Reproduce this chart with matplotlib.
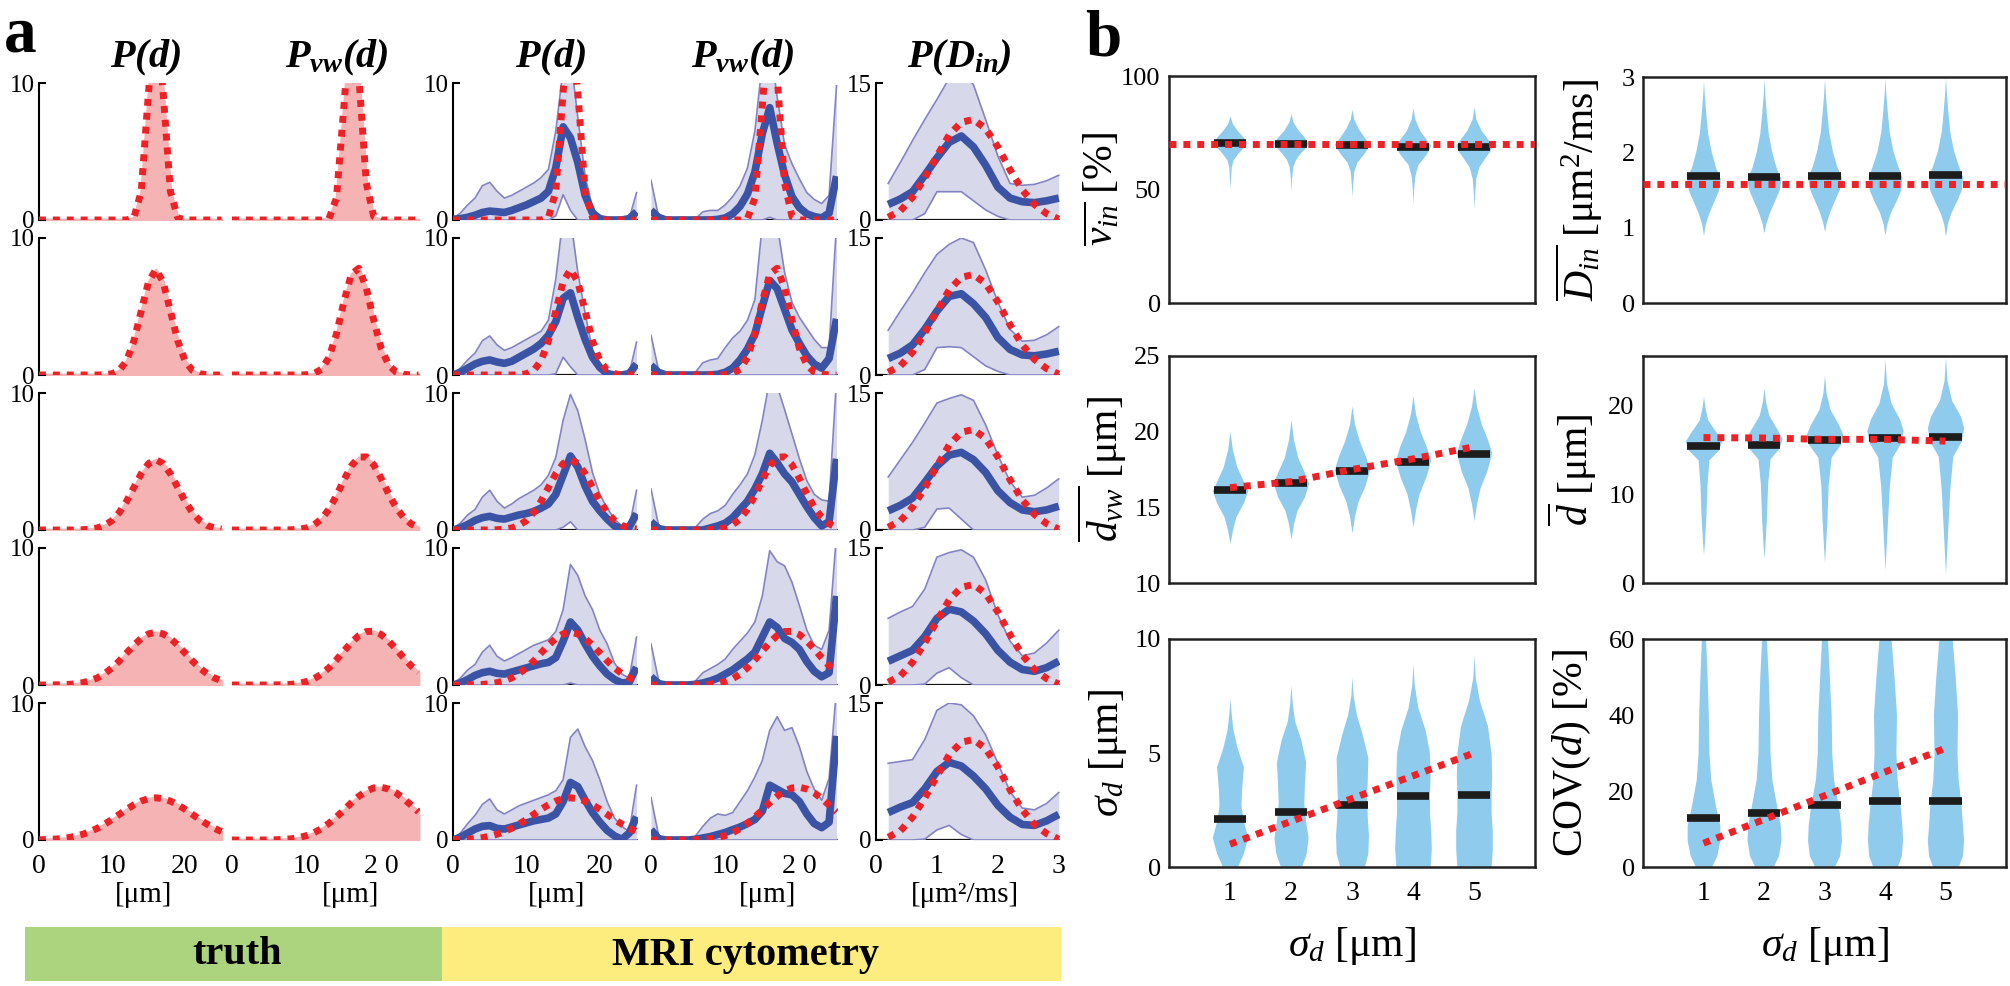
import matplotlib.pyplot as plt
from matplotlib.patches import Rectangle

plt.rcParams['font.family'] = 'serif'
plt.rcParams['font.serif'] = ['Liberation Serif', 'DejaVu Serif']
plt.rcParams['mathtext.fontset'] = 'custom'
plt.rcParams['mathtext.rm'] = 'Liberation Serif'
plt.rcParams['mathtext.it'] = 'Liberation Serif:italic'
plt.rcParams['mathtext.bf'] = 'Liberation Serif:italic:bold'

RED = '#ee2226'
PINK = '#f5b3b3'
BLUE = '#3a53a4'
BAND = '#d8d8eb'
BAND_EDGE = '#8383c2'
VIOLIN = '#8fcbec'

# ---------------- panel a data ----------------
d_um = list(range(26))                       # diameter grid [um]
din_grid = [0.2, 0.4, 0.6, 0.8, 1.0, 1.2, 1.4, 1.6, 1.8, 2.0, 2.2, 2.4, 2.6, 2.8, 3.0]

truth_pd = [
    [0, 0, 0, 0, 0, 0, 0, 0, 0, 0, 0, 0, 0, 0.17, 2.08, 9.34, 15.4, 9.34, 2.08, 0.17, 0, 0, 0, 0, 0, 0],
    [0, 0, 0, 0, 0, 0, 0, 0, 0, 0.02, 0.09, 0.34, 1.04, 2.5, 4.67, 6.8, 7.7, 6.8, 4.67, 2.5, 1.04, 0.34, 0.09, 0.02, 0, 0],
    [0, 0, 0, 0, 0, 0, 0.02, 0.06, 0.15, 0.34, 0.69, 1.28, 2.11, 3.11, 4.11, 4.85, 5.13, 4.85, 4.11, 3.11, 2.11, 1.28, 0.69, 0.34, 0.15, 0.06],
    [0, 0, 0.01, 0.02, 0.04, 0.09, 0.17, 0.31, 0.52, 0.83, 1.25, 1.76, 2.34, 2.91, 3.4, 3.73, 3.85, 3.73, 3.4, 2.91, 2.34, 1.76, 1.25, 0.83, 0.52, 0.31],
    [0.02, 0.03, 0.06, 0.1, 0.17, 0.27, 0.42, 0.61, 0.86, 1.16, 1.5, 1.87, 2.24, 2.57, 2.84, 3.02, 3.08, 3.02, 2.84, 2.57, 2.24, 1.87, 1.5, 1.16, 0.86, 0.61],
]
truth_pvw = [
    [0, 0, 0, 0, 0, 0, 0, 0, 0, 0, 0, 0, 0, 0.1, 1.6, 8.3, 15.5, 10.5, 2.7, 0.25, 0, 0, 0, 0, 0, 0],
    [0, 0, 0, 0, 0, 0, 0, 0, 0, 0, 0.02, 0.11, 0.42, 1.28, 2.99, 5.35, 7.36, 7.79, 6.36, 4.0, 1.94, 0.73, 0.21, 0.05, 0.01, 0],
    [0, 0, 0, 0, 0, 0, 0, 0, 0.02, 0.05, 0.15, 0.38, 0.81, 1.52, 2.51, 3.65, 4.68, 5.31, 5.34, 4.76, 3.76, 2.64, 1.64, 0.92, 0.45, 0.2],
    [0, 0, 0, 0, 0, 0, 0.01, 0.02, 0.05, 0.12, 0.25, 0.46, 0.79, 1.26, 1.84, 2.48, 3.11, 3.61, 3.9, 3.92, 3.68, 3.21, 2.63, 1.99, 1.41, 0.94],
    [0, 0, 0, 0, 0, 0.01, 0.02, 0.05, 0.09, 0.18, 0.32, 0.53, 0.83, 1.22, 1.68, 2.19, 2.72, 3.19, 3.57, 3.8, 3.85, 3.72, 3.44, 3.02, 2.55, 2.05],
]

pd_mean = [
    [0.05, 0.1, 0.2, 0.35, 0.55, 0.65, 0.6, 0.55, 0.7, 0.9, 1.1, 1.35, 1.6, 2.1, 3.8, 6.8, 6.0, 4.2, 1.8, 0.5, 0.1, 0, 0, 0, 0.1, 0.6],
    [0, 0.2, 0.5, 0.8, 1.0, 1.1, 0.95, 0.85, 1.0, 1.3, 1.6, 1.9, 2.3, 2.9, 3.9, 5.6, 6.0, 4.2, 2.6, 1.3, 0.55, 0.1, 0, 0, 0.1, 0.8],
    [0, 0.15, 0.4, 0.7, 0.9, 1.0, 0.85, 0.8, 0.95, 1.1, 1.2, 1.35, 1.6, 1.9, 2.6, 4.0, 5.4, 4.6, 3.2, 2.1, 1.4, 0.8, 0.3, 0.1, 0.2, 1.2],
    [0, 0.15, 0.4, 0.7, 0.9, 1.0, 0.85, 0.8, 0.95, 1.1, 1.25, 1.4, 1.55, 1.65, 2.0, 3.2, 4.6, 4.0, 3.0, 2.1, 1.4, 0.8, 0.4, 0.15, 0.2, 1.3],
    [0, 0.2, 0.5, 0.8, 1.0, 1.05, 0.85, 0.8, 0.95, 1.1, 1.25, 1.4, 1.5, 1.6, 1.9, 2.8, 4.2, 3.9, 2.9, 2.0, 1.3, 0.7, 0.3, 0.05, 0.5, 1.7],
]
pd_hi = [
    [0.1, 0.5, 1.1, 1.6, 2.5, 2.75, 2.1, 1.6, 1.8, 2.1, 2.4, 2.7, 3.1, 3.7, 6.5, 11, 12, 7.5, 3.2, 0.9, 0.2, 0.05, 0.02, 0.02, 0.1, 2.0],
    [0.1, 0.5, 1.1, 1.6, 2.5, 2.85, 2.2, 1.8, 2.0, 2.3, 2.6, 2.9, 3.2, 4.0, 7.0, 11.5, 11.5, 7.5, 4.5, 1.8, 0.8, 0.35, 0.1, 0.05, 0.1, 2.4],
    [0.1, 0.5, 1.1, 1.5, 2.4, 2.9, 2.1, 1.6, 1.9, 2.3, 2.6, 2.9, 3.3, 4.0, 5.3, 8.0, 9.9, 8.7, 6.6, 4.2, 2.6, 1.6, 0.8, 0.3, 0.2, 2.9],
    [0.1, 0.5, 1.1, 1.5, 2.4, 2.9, 2.1, 1.75, 2.0, 2.3, 2.6, 2.9, 3.1, 3.3, 3.9, 5.5, 8.8, 8.0, 6.5, 5.5, 4.0, 3.0, 1.6, 0.8, 0.5, 3.5],
    [0.1, 0.5, 1.2, 1.8, 2.6, 3.0, 2.2, 1.9, 2.2, 2.5, 2.7, 2.9, 3.1, 3.3, 3.6, 4.4, 7.5, 8.1, 6.8, 5.8, 4.4, 2.8, 1.6, 1.0, 0.6, 4.0],
]
pd_lo = [
    [0, 0, 0, 0, 0, 0, 0, 0, 0, 0, 0, 0, 0, 0, 0.3, 1.85, 0.7, 0, 0, 0, 0, 0, 0, 0, 0, 0],
    [0, 0, 0, 0, 0, 0, 0, 0, 0, 0, 0, 0, 0, 0, 0.1, 1.3, 0.6, 0, 0, 0, 0, 0, 0, 0, 0, 0],
    [0, 0, 0, 0, 0, 0, 0, 0, 0, 0, 0, 0, 0, 0, 0, 0.2, 0.6, 0, 0, 0, 0, 0, 0, 0, 0, 0],
    [0, 0, 0, 0, 0, 0, 0, 0, 0, 0, 0, 0, 0, 0, 0, 0, 0.15, 0, 0, 0, 0, 0, 0, 0, 0, 0],
    [0, 0, 0, 0, 0, 0, 0, 0, 0, 0, 0, 0, 0, 0, 0, 0, 0, 0, 0, 0, 0, 0, 0, 0, 0, 0],
]

pvw_mean = [
    [0.7, 0.2, 0, 0, 0, 0, 0, 0, 0, 0.05, 0.15, 0.45, 1.0, 1.9, 3.5, 6.3, 8.2, 5.6, 3.3, 1.7, 0.9, 0.45, 0.25, 0.15, 0.5, 3.2],
    [0.7, 0.2, 0, 0, 0, 0, 0, 0, 0, 0.05, 0.2, 0.5, 1.1, 1.9, 3.0, 5.0, 6.9, 6.3, 4.8, 3.3, 2.3, 1.4, 0.8, 0.5, 1.2, 4.1],
    [0.6, 0.1, 0, 0, 0, 0, 0, 0, 0.15, 0.3, 0.5, 0.9, 1.5, 2.1, 3.0, 4.1, 5.6, 4.9, 4.1, 3.5, 2.6, 1.7, 0.9, 0.3, 0.6, 5.2],
    [0.6, 0.1, 0, 0, 0, 0, 0.05, 0.15, 0.3, 0.5, 0.8, 1.1, 1.5, 1.9, 2.4, 3.5, 4.6, 4.2, 3.4, 3.1, 2.6, 1.7, 1.0, 0.6, 0.9, 6.5],
    [0.75, 0.1, 0, 0, 0, 0, 0.05, 0.15, 0.25, 0.4, 0.55, 0.75, 0.95, 1.2, 1.5, 2.1, 4.0, 3.7, 3.4, 3.3, 2.8, 1.9, 1.2, 0.9, 1.3, 7.6],
]
pvw_hi = [
    [2.9, 0.3, 0, 0, 0, 0, 0.1, 0.6, 0.7, 0.7, 1.1, 1.7, 2.5, 3.8, 6.5, 11.5, 13, 9.0, 5.5, 4.1, 3.0, 2.0, 1.5, 1.2, 1.8, 9.8],
    [2.9, 0.4, 0, 0, 0, 0, 0.2, 0.9, 1.1, 1.2, 2.0, 2.7, 3.2, 4.0, 5.5, 11, 14, 11, 7.5, 5.3, 4.2, 3.4, 2.6, 2.0, 2.0, 11],
    [3.0, 0.4, 0, 0, 0, 0, 0.2, 0.8, 1.2, 1.4, 1.8, 2.6, 3.3, 4.1, 5.5, 8.0, 11, 10.5, 8.8, 7.0, 5.2, 3.6, 2.6, 2.2, 2.1, 11],
    [3.0, 0.4, 0, 0, 0, 0, 0.3, 0.9, 1.2, 1.5, 1.9, 2.6, 3.2, 3.8, 4.6, 6.5, 9.8, 9.0, 8.7, 7.5, 5.8, 4.0, 2.9, 2.6, 4.0, 11],
    [3.1, 0.4, 0, 0, 0, 0, 0.3, 1.0, 1.6, 1.9, 1.8, 2.0, 2.8, 3.6, 4.6, 5.8, 8.0, 9.0, 8.0, 8.2, 6.8, 5.0, 3.7, 2.9, 4.5, 11],
]
pvw_lo = [
    [0, 0, 0, 0, 0, 0, 0, 0, 0, 0, 0, 0, 0, 0, 0, 0, 0.2, 0, 0, 0, 0, 0, 0, 0, 0, 0],
    [0] * 26,
    [0] * 26,
    [0] * 26,
    [0] * 26,
]

din_truth = [0.3, 1.0, 2.5, 4.6, 7.0, 9.3, 10.7, 11.0, 10.0, 8.0, 5.5, 3.3, 1.7, 0.7, 0.1]
din_mean = [
    [1.7, 2.3, 3.1, 4.9, 6.8, 8.5, 9.2, 8.0, 6.0, 3.6, 2.4, 2.0, 1.9, 2.1, 2.4],
    [1.8, 2.4, 3.3, 5.0, 7.0, 8.6, 8.9, 7.8, 6.3, 4.1, 2.8, 2.2, 2.1, 2.3, 2.6],
    [2.1, 2.7, 3.5, 5.2, 7.0, 8.2, 8.5, 7.7, 6.3, 4.3, 3.0, 2.2, 2.0, 2.2, 2.6],
    [2.6, 3.2, 3.8, 5.3, 7.3, 8.3, 8.0, 7.0, 5.6, 3.8, 2.5, 1.7, 1.5, 1.9, 2.6],
    [3.0, 3.6, 4.1, 5.6, 7.5, 8.5, 8.1, 7.0, 5.6, 3.8, 2.5, 1.7, 1.6, 2.1, 2.8],
]
din_hi = [
    [4.0, 6.3, 8.7, 11.0, 13.2, 15.5, 16.5, 14.8, 11.0, 7.0, 4.0, 3.8, 3.9, 4.3, 4.9],
    [4.9, 7.0, 9.0, 11.2, 13.2, 14.3, 15.0, 14.5, 11.5, 8.0, 5.0, 3.7, 3.8, 4.4, 5.3],
    [5.8, 7.7, 9.6, 11.7, 13.9, 14.4, 14.8, 14.2, 11.5, 8.2, 5.3, 3.6, 3.8, 4.6, 5.6],
    [7.3, 8.0, 8.6, 10.5, 14.0, 14.5, 14.8, 14.0, 11.5, 7.7, 4.8, 3.2, 3.5, 4.6, 6.0],
    [8.4, 8.6, 8.8, 11.0, 14.2, 15.0, 14.8, 13.6, 11.5, 8.4, 5.3, 3.5, 3.3, 4.0, 5.2],
]
din_lo = [
    [0, 0, 0, 0.7, 3.1, 3.1, 3.1, 2.1, 1.1, 0.4, 0, 0, 0, 0, 0],
    [0, 0, 0, 0.6, 3.0, 3.1, 3.0, 2.0, 1.0, 0.4, 0, 0, 0, 0, 0],
    [0, 0, 0, 0.3, 2.3, 2.4, 1.2, 0, 0, 0, 0, 0, 0, 0, 0],
    [0, 0, 0, 0.1, 1.3, 1.9, 0.8, 0, 0, 0, 0, 0, 0, 0, 0],
    [0, 0, 0, 0.1, 1.1, 1.6, 0.6, 0, 0, 0, 0, 0, 0, 0, 0],
]

col_titles = [r'$\mathbf{P(d)}$', r'$\mathbf{P_{vw}(d)}$', r'$\mathbf{P(d)}$',
              r'$\mathbf{P_{vw}(d)}$', r'$\mathbf{P(D_{in})}$']
um_ticks = ['0', '10', '20']
um_ticks_vw = ['0', '10', '2 0']
din_ticks = ['0', '1', '2', '3']

# ---------------- panel b data ----------------
sigma_d = [1, 2, 3, 4, 5]

vin_median = [70.3, 70.1, 69.6, 68.9, 68.8]
vin_true = 70
vin_vy = [[50.4, 55, 60, 63, 66, 68, 70.5, 73, 76, 79, 82.4],
          [49.4, 55, 60, 63, 66, 68, 70.3, 73, 76, 80, 83.5],
          [46.8, 52, 58, 62, 65, 68, 70, 73, 77, 81, 85.3],
          [43.5, 50, 56, 61, 65, 68, 69.5, 72, 76, 81, 86.2],
          [41.2, 48, 55, 60, 64, 67, 69.5, 72, 76, 81, 86.5]]
vin_vw = [[0, 0.01, 0.02, 0.05, 0.13, 0.2, 0.28, 0.22, 0.12, 0.04, 0],
          [0, 0.01, 0.03, 0.07, 0.15, 0.22, 0.29, 0.22, 0.12, 0.03, 0],
          [0, 0.01, 0.03, 0.08, 0.17, 0.25, 0.29, 0.2, 0.1, 0.03, 0],
          [0, 0.01, 0.03, 0.08, 0.2, 0.27, 0.29, 0.22, 0.11, 0.03, 0],
          [0, 0.01, 0.03, 0.08, 0.18, 0.26, 0.3, 0.23, 0.12, 0.03, 0]]

din_median = [1.68, 1.67, 1.68, 1.69, 1.70]
din_true = 1.58
din_vy = [[0.9, 1.05, 1.2, 1.35, 1.5, 1.65, 1.8, 2.0, 2.25, 2.5, 2.75, 2.95],
          [0.93, 1.05, 1.2, 1.35, 1.5, 1.65, 1.8, 2.0, 2.25, 2.5, 2.75, 2.97],
          [0.95, 1.07, 1.22, 1.37, 1.52, 1.67, 1.82, 2.02, 2.27, 2.52, 2.77, 2.97],
          [0.9, 1.05, 1.2, 1.35, 1.5, 1.67, 1.82, 2.02, 2.27, 2.52, 2.77, 2.98],
          [0.88, 1.05, 1.2, 1.35, 1.5, 1.68, 1.83, 2.03, 2.28, 2.53, 2.78, 2.99]]
din_vw = [[0, 0.03, 0.09, 0.17, 0.25, 0.28, 0.2, 0.13, 0.07, 0.04, 0.015, 0],
          [0, 0.03, 0.09, 0.17, 0.25, 0.28, 0.2, 0.13, 0.07, 0.04, 0.015, 0],
          [0, 0.03, 0.09, 0.17, 0.25, 0.28, 0.2, 0.13, 0.07, 0.04, 0.015, 0],
          [0, 0.03, 0.09, 0.18, 0.26, 0.28, 0.21, 0.13, 0.07, 0.04, 0.015, 0],
          [0, 0.03, 0.09, 0.18, 0.26, 0.28, 0.21, 0.13, 0.07, 0.04, 0.015, 0]]

dvw_median = [16.15, 16.6, 17.4, 18.0, 18.5]
dvw_true = [16.3, 16.7, 17.5, 18.2, 19.0]
dvw_vy = [[12.6, 13.5, 14.4, 15.3, 16.1, 16.8, 17.7, 18.8, 20.0],
          [12.9, 13.9, 14.8, 15.7, 16.6, 17.4, 18.3, 19.5, 20.8],
          [13.3, 14.4, 15.4, 16.4, 17.5, 18.4, 19.4, 20.5, 21.7],
          [13.7, 14.8, 15.9, 17.0, 18.1, 19.0, 20.0, 21.2, 22.4],
          [14.1, 15.2, 16.3, 17.4, 18.6, 19.5, 20.5, 21.7, 22.9]]
dvw_vw = [[0, 0.04, 0.1, 0.22, 0.29, 0.21, 0.11, 0.04, 0],
          [0, 0.04, 0.1, 0.22, 0.29, 0.21, 0.11, 0.04, 0],
          [0, 0.04, 0.1, 0.21, 0.29, 0.22, 0.12, 0.04, 0],
          [0, 0.04, 0.1, 0.21, 0.29, 0.22, 0.12, 0.04, 0],
          [0, 0.04, 0.1, 0.21, 0.29, 0.22, 0.12, 0.04, 0]]

dmean_median = [15.4, 15.6, 16.1, 16.35, 16.5]
dmean_true = [16.4, 16.35, 16.2, 16.2, 16.0]
dmean_vy = [[3.2, 4.5, 7.5, 11.3, 13.9, 15.0, 16.0, 16.9, 18.4, 19.8, 21.05],
            [2.8, 4.2, 7.3, 11.2, 14.0, 15.2, 16.3, 17.3, 18.9, 20.5, 22.0],
            [2.3, 4.0, 7.0, 11.0, 14.2, 15.6, 16.8, 17.9, 19.6, 21.5, 23.5],
            [1.5, 3.5, 6.8, 10.8, 14.2, 15.8, 17.2, 18.5, 20.3, 22.5, 25.2],
            [1.1, 3.0, 6.5, 10.5, 14.3, 16.0, 17.5, 18.8, 20.6, 22.8, 25.4]]
dmean_vw = [[0, 0.015, 0.04, 0.06, 0.09, 0.25, 0.3, 0.22, 0.07, 0.025, 0],
            [0, 0.015, 0.04, 0.06, 0.1, 0.25, 0.3, 0.22, 0.08, 0.025, 0],
            [0, 0.015, 0.04, 0.06, 0.11, 0.26, 0.3, 0.23, 0.09, 0.025, 0],
            [0, 0.015, 0.04, 0.07, 0.12, 0.26, 0.3, 0.24, 0.1, 0.025, 0],
            [0, 0.015, 0.04, 0.07, 0.12, 0.26, 0.3, 0.25, 0.1, 0.025, 0]]

sd_median = [2.12, 2.42, 2.7, 3.1, 3.15]
sd_true = [1, 2, 3, 4, 5]
sd_vy = [[0, 0.6, 1.3, 2.0, 2.7, 3.4, 4.4, 5.2, 6.0, 6.7, 7.4],
         [0, 0.6, 1.3, 2.0, 2.8, 3.6, 4.6, 5.6, 6.4, 7.2, 8.0],
         [0, 0.6, 1.4, 2.2, 3.0, 3.8, 4.8, 5.8, 6.7, 7.5, 8.35],
         [0, 0.8, 1.6, 2.4, 3.2, 4.0, 5.0, 6.0, 7.0, 8.0, 8.9],
         [0, 0.8, 1.6, 2.4, 3.2, 4.0, 5.0, 6.2, 7.3, 8.3, 9.3]]
sd_vw = [[0.12, 0.22, 0.29, 0.22, 0.18, 0.19, 0.22, 0.12, 0.05, 0.02, 0],
         [0.17, 0.25, 0.28, 0.24, 0.21, 0.22, 0.24, 0.16, 0.06, 0.02, 0],
         [0.2, 0.26, 0.27, 0.25, 0.24, 0.25, 0.26, 0.17, 0.07, 0.02, 0],
         [0.28, 0.3, 0.29, 0.27, 0.27, 0.28, 0.27, 0.2, 0.08, 0.02, 0],
         [0.28, 0.3, 0.3, 0.28, 0.28, 0.29, 0.28, 0.22, 0.09, 0.02, 0]]

cov_median = [12.8, 14.3, 16.3, 17.4, 17.4]
cov_true = [6.25, 12.5, 18.75, 25, 31.25]
cov_levels = [0, 3, 7, 11, 16, 23, 30, 40, 50, 60]
cov_vy = [cov_levels] * 5
cov_vw = [[0.13, 0.22, 0.27, 0.27, 0.2, 0.12, 0.09, 0.08, 0.06, 0.035],
          [0.15, 0.24, 0.28, 0.27, 0.21, 0.13, 0.1, 0.09, 0.07, 0.04],
          [0.16, 0.25, 0.28, 0.27, 0.23, 0.15, 0.12, 0.11, 0.08, 0.05],
          [0.2, 0.27, 0.29, 0.28, 0.25, 0.2, 0.18, 0.19, 0.15, 0.1],
          [0.21, 0.28, 0.3, 0.28, 0.26, 0.21, 0.19, 0.2, 0.16, 0.11]]

# ---------------- figure ----------------
W, H = 2010, 986
fig = plt.figure(figsize=(W / 100, H / 100), dpi=100)


def add_ax(l, t, r, b):
    return fig.add_axes([l / W, 1 - b / H, (r - l) / W, (b - t) / H])


def red_dots(ax, x, y):
    ax.plot(x, y, color=RED, lw=5, linestyle=(0, (1, 1)), dash_capstyle='butt', zorder=5)


cols = [(39, 223), (232, 420), (453, 638), (651, 838), (876, 1060)]
row_tops = [83, 238, 393, 548, 703]
row_h = 137

for r in range(5):
    for c in range(5):
        l, rr = cols[c]
        ax = add_ax(l, row_tops[r], rr, row_tops[r] + row_h)
        for s in ax.spines.values():
            s.set_visible(False)
        ymax = 15 if c == 4 else 10
        ax.set_ylim(0, ymax)
        if c == 4:
            ax.set_xlim(0, 3.02)
        else:
            ax.set_xlim(0, 25.2)
        ax.axhline(0, color='#111111', lw=1.6, zorder=0.5)

        if c == 0 or c == 1:
            tru = truth_pd[r] if c == 0 else truth_pvw[r]
            ax.fill_between(d_um, 0, tru, color=PINK, lw=2, edgecolor=PINK, zorder=1)
            red_dots(ax, d_um, tru)
        elif c == 2 or c == 3:
            lo = pd_lo[r] if c == 2 else pvw_lo[r]
            hi = pd_hi[r] if c == 2 else pvw_hi[r]
            mn = pd_mean[r] if c == 2 else pvw_mean[r]
            tru = truth_pd[r] if c == 2 else truth_pvw[r]
            ax.fill_between(d_um, lo, hi, color=BAND, lw=0, zorder=1)
            ax.plot(d_um, hi, color=BAND_EDGE, lw=1.2, zorder=2)
            ax.plot(d_um, lo, color=BAND_EDGE, lw=1.2, zorder=2)
            ax.plot(d_um, mn, color=BLUE, lw=5.5, zorder=4, solid_capstyle='butt')
            red_dots(ax, d_um, tru)
        else:
            ax.fill_between(din_grid, din_lo[r], din_hi[r], color=BAND, lw=0, zorder=1)
            ax.plot(din_grid, din_hi[r], color=BAND_EDGE, lw=1.2, zorder=2)
            ax.plot(din_grid, din_lo[r], color=BAND_EDGE, lw=1.2, zorder=2)
            ax.plot(din_grid, din_mean[r], color=BLUE, lw=5.5, zorder=4, solid_capstyle='butt')
            red_dots(ax, din_grid, din_truth)

        if c in (0, 2, 4):
            ax.spines['left'].set_visible(True)
            ax.spines['left'].set_linewidth(1.5)
            ax.set_yticks([0, ymax])
            ax.set_yticklabels(['0', str(ymax)])
            ax.tick_params(axis='y', direction='in', length=5, width=1.5,
                           labelsize=18, pad=3)
        else:
            ax.set_yticks([])

        if r == 4:
            if c == 4:
                ax.set_xticks([0, 1, 2, 3])
                ax.set_xticklabels(din_ticks)
            else:
                ax.set_xticks([0, 10, 20])
                ax.set_xticklabels(um_ticks if c in (0, 2) else um_ticks_vw)
            ax.tick_params(axis='x', length=0, labelsize=20, pad=10)
        else:
            ax.set_xticks([])

# column titles and unit labels
title_x = [145, 337, 550, 743, 959]
for c in range(5):
    fig.text(title_x[c] / W, 1 - 58 / H, col_titles[c], ha='center', va='center', fontsize=29)
unit_x = [144, 351, 557, 768, 965]
unit_txt = ['[μm]', '[μm]', '[μm]', '[μm]', '[μm²/ms]']
for c in range(5):
    fig.text(unit_x[c] / W, 1 - 895 / H, unit_txt[c], ha='center', va='center', fontsize=21)

fig.text(4 / W, 1 - 52 / H, 'a', ha='left', va='baseline', fontsize=47, fontweight='bold')
fig.text(1085 / W, 1 - 55 / H, 'b', ha='left', va='baseline', fontsize=47, fontweight='bold')

# bottom bar
fig.add_artist(Rectangle((25 / W, 1 - 981 / H), (442 - 25) / W, 54 / H,
                         transform=fig.transFigure, color='#acd47e', lw=0))
fig.add_artist(Rectangle((442 / W, 1 - 981 / H), (1061 - 442) / W, 54 / H,
                         transform=fig.transFigure, color='#fded7e', lw=0))
fig.text(237 / W, 1 - 955 / H, 'truth', ha='center', va='center', fontsize=29, fontweight='bold')
fig.text(745 / W, 1 - 955 / H, 'MRI cytometry', ha='center', va='center', fontsize=29,
         fontweight='bold')

# ---------------- panel b ----------------
b_panels = [
    ((1169, 76, 1535, 303), (0, 100), [0, 50, 100], vin_vy, vin_vw, vin_median, vin_true,
     r'$\overline{v_{in}}$ [%]', -0.128),
    ((1643, 77, 2006, 303), (0, 3), [0, 1, 2, 3], din_vy, din_vw, din_median, din_true,
     r'$\overline{D_{in}}$ [μm$^2$/ms]', -0.104),
    ((1169, 356, 1535, 583), (10, 25), [10, 15, 20, 25], dvw_vy, dvw_vw, dvw_median, dvw_true,
     r'$\overline{d_{vw}}$ [μm]', -0.11),
    ((1643, 356, 2006, 583), (0, 25.6), [0, 10, 20], dmean_vy, dmean_vw, dmean_median, dmean_true,
     r'$\overline{d}$ [μm]', -0.12),
    ((1169, 639, 1535, 867), (0, 10), [0, 5, 10], sd_vy, sd_vw, sd_median, sd_true,
     r'$\sigma_d$ [μm]', -0.11),
    ((1643, 639, 2006, 867), (0, 60), [0, 20, 40, 60], cov_vy, cov_vw, cov_median, cov_true,
     r'COV($d$) [%]', -0.137),
]

for i, (box, ylim, yt, vys, vws, med, tru, ylab, labx) in enumerate(b_panels):
    ax = add_ax(*box)
    ax.set_xlim(0, 6)
    ax.set_ylim(*ylim)
    for s in ax.spines.values():
        s.set_linewidth(1.8)
        s.set_color('#222222')
    for k, x in enumerate(sigma_d):
        ax.fill_betweenx(vys[k], [x - w for w in vws[k]], [x + w for w in vws[k]],
                         color=VIOLIN, lw=0, zorder=1)
        ax.plot([x - 0.27, x + 0.27], [med[k], med[k]], color='#1c1c1c', lw=5.5,
                solid_capstyle='butt', zorder=3)
    if isinstance(tru, list):
        red_dots(ax, sigma_d, tru)
    else:
        ax.axhline(tru, color=RED, lw=5, linestyle=(0, (1, 1)), dash_capstyle='butt', zorder=5)
    ax.set_yticks(yt)
    ax.set_yticklabels([str(v) for v in yt])
    ax.tick_params(axis='y', length=0, labelsize=19, pad=6)
    ax.set_ylabel(ylab, fontsize=30)
    ax.yaxis.set_label_coords(labx, 0.5)
    if i >= 4:
        ax.set_xticks(sigma_d)
        ax.set_xticklabels([str(v) for v in sigma_d])
        ax.tick_params(axis='x', length=0, labelsize=20, pad=10)
        ax.set_xlabel(r'$\sigma_d$ [μm]', fontsize=30, labelpad=14)
    else:
        ax.set_xticks([])

fig.savefig('out.png', dpi=100)
